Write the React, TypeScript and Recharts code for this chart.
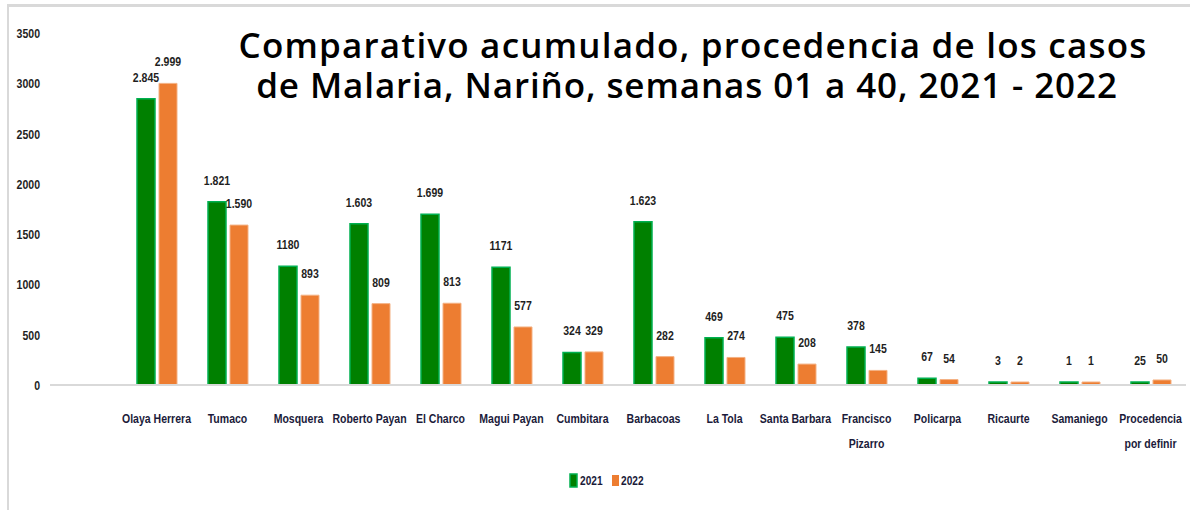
import { Bar, BarChart, XAxis, YAxis, LabelList } from "recharts"

const categories = [
  "",
  "Olaya Herrera",
  "Tumaco",
  "Mosquera",
  "Roberto Payan",
  "El Charco",
  "Magui Payan",
  "Cumbitara",
  "Barbacoas",
  "La Tola",
  "Santa Barbara",
  "Francisco\nPizarro",
  "Policarpa",
  "Ricaurte",
  "Samaniego",
  "Procedencia\npor definir",
]

const cases2021 = [null, 2845, 1821, 1180, 1603, 1699, 1171, 324, 1623, 469, 475, 378, 67, 3, 1, 25]
const cases2022 = [null, 2999, 1590, 893, 809, 813, 577, 329, 282, 274, 208, 145, 54, 2, 1, 50]

const labels2021 = ["", "2.845", "1.821", "1180", "1.603", "1.699", "1171", "324", "1.623", "469", "475", "378", "67", "3", "1", "25"]
const labels2022 = ["", "2.999", "1.590", "893", "809", "813", "577", "329", "282", "274", "208", "145", "54", "2", "1", "50"]

const yTicks = [0, 500, 1000, 1500, 2000, 2500, 3000, 3500]

const titleLines = [
  "Comparativo acumulado, procedencia de los casos",
  "de Malaria, Nariño, semanas 01 a 40, 2021 - 2022",
]

const FONT = "'Liberation Sans', Arial, sans-serif"
const SQUEEZE = 0.78

// narrow bold text (the original uses Calibri-like condensed type)
function NarrowText({ x, y, children, anchor = "middle", fill = "#1b1b3a", size = 13 }: any) {
  return (
    <text
      transform={`translate(${x},${y}) scale(${SQUEEZE},1)`}
      textAnchor={anchor}
      fill={fill}
      fontSize={size}
      fontWeight="bold"
      fontFamily={FONT}
    >
      {children}
    </text>
  )
}

const data = categories.map((name, i) => ({
  name,
  y2021: cases2021[i],
  y2022: cases2022[i],
  l2021: labels2021[i],
  l2022: labels2022[i],
}))

function CategoryTick({ x, y, payload }: any) {
  const lines = String(payload.value).split("\n")
  return (
    <g>
      {lines.map((line, i) => (
        <NarrowText key={i} x={x} y={y + 30 + i * 25} size={13.5}>
          {line}
        </NarrowText>
      ))}
    </g>
  )
}

function ValueTick({ x, y, payload }: any) {
  return (
    <NarrowText x={x} y={y + 5} anchor="end" fill="#1f1f1f" size={13.5}>
      {payload.value}
    </NarrowText>
  )
}

function ValueLabel(props: any) {
  const { x, y, width, value } = props
  if (!value) return null
  return (
    <NarrowText x={x + width / 2} y={y - 17} fill="#1f1f1f" size={13.5}>
      {value}
    </NarrowText>
  )
}

export default function App() {
  return (
    <div style={{ position: "absolute", left: 0, top: 0, width: 1190, height: 510, background: "#fff", overflow: "hidden" }}>
      <div style={{ position: "absolute", left: 7, top: 4, width: 1183, height: 3, background: "#d9d9d9" }} />
      <div style={{ position: "absolute", left: 7, top: 4, width: 2, height: 506, background: "#d9d9d9" }} />
      <BarChart
        width={1190}
        height={510}
        data={data}
        margin={{ top: 33, right: 4, bottom: 60, left: 0 }}
        barSize={18}
        barGap={4}
      >
        <XAxis
          dataKey="name"
          interval={0}
          tickLine={false}
          axisLine={{ stroke: "#d9d9d9", strokeWidth: 2 }}
          tick={<CategoryTick />}
          height={65}
        />
        <YAxis
          domain={[0, 3500]}
          ticks={yTicks}
          axisLine={false}
          tickLine={false}
          tickSize={0}
          tickMargin={10}
          width={50}
          tick={<ValueTick />}
        />
        <Bar dataKey="y2021" fill="#008000" stroke="#00b050" strokeWidth={1.5} minPointSize={3} isAnimationActive={false}>
          <LabelList dataKey="l2021" content={<ValueLabel />} />
        </Bar>
        <Bar dataKey="y2022" fill="#ed7d31" stroke="#f4b183" strokeWidth={1} minPointSize={3} isAnimationActive={false}>
          <LabelList dataKey="l2022" content={<ValueLabel />} />
        </Bar>
      </BarChart>
      <svg width={1190} height={510} style={{ position: "absolute", left: 0, top: 0, pointerEvents: "none" }}>
        <text x={693} y={58} textAnchor="middle" fontSize={35} fontWeight={600} fill="#000"
          fontFamily="'Open Sans', sans-serif" letterSpacing={1.2}>
          {titleLines[0]}
        </text>
        <text x={687} y={98} textAnchor="middle" fontSize={35} fontWeight={600} fill="#000"
          fontFamily="'Open Sans', sans-serif" letterSpacing={0.9}>
          {titleLines[1]}
        </text>
        <rect x={570} y={474} width={7} height={13} fill="#008000" stroke="#00b050" strokeWidth={1.5} />
        <NarrowText x={580} y={485} anchor="start" size={13}>2021</NarrowText>
        <rect x={612} y={475} width={7} height={11} fill="#ed7d31" />
        <NarrowText x={621} y={485} anchor="start" size={13}>2022</NarrowText>
      </svg>
    </div>
  )
}
